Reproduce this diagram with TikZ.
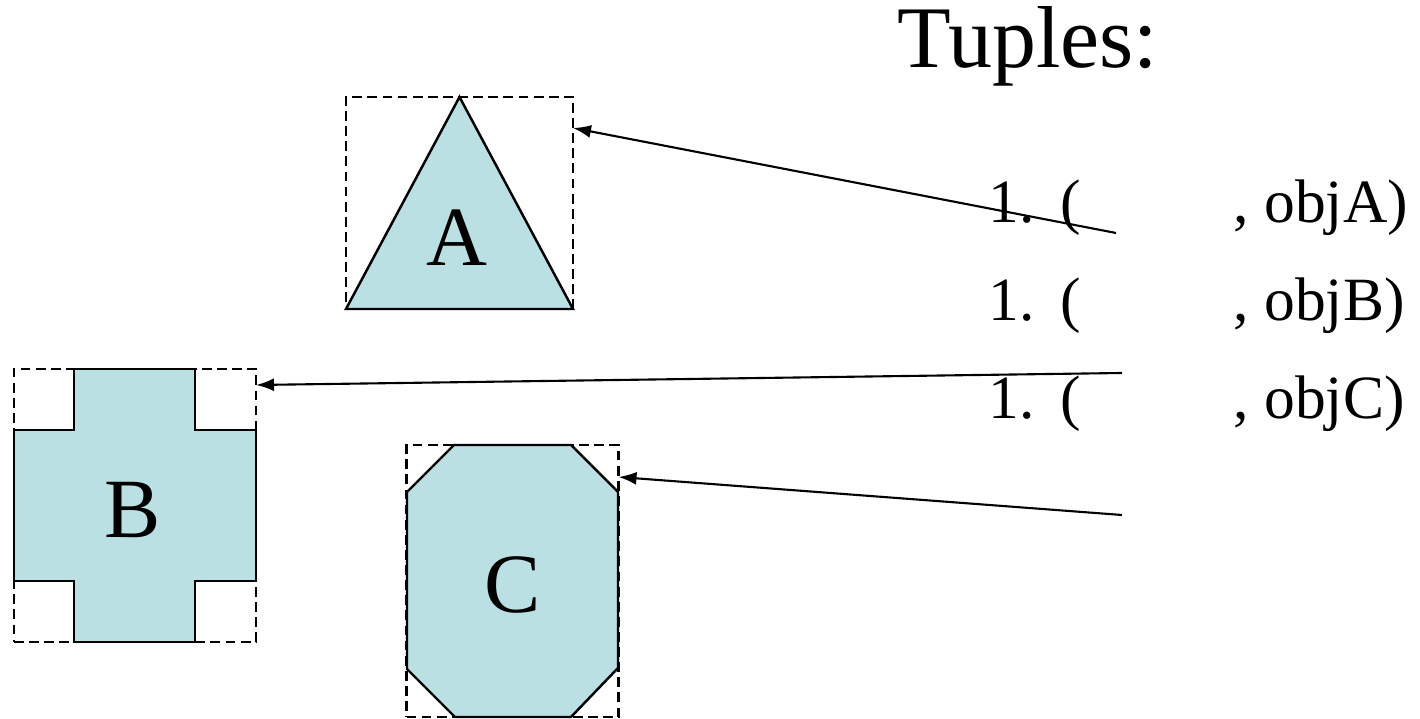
\documentclass[tikz,border=0pt]{standalone}
\usepackage{fontspec}
\setmainfont{Liberation Serif}
\usetikzlibrary{positioning, arrows.meta, calc}

\definecolor{shapefill}{RGB}{187,224,227}

\begin{document}
\begin{tikzpicture}[
  shp/.style={draw=black, line width=0.7pt, fill=shapefill, line join=miter},
  bbox/.style={draw=black, line width=0.7pt, dash pattern=on 2.8pt off 1.5pt,
    inner sep=0pt, outer sep=0pt},
  biglbl/.style={font=\fontsize{24}{28}\selectfont, inner sep=0pt},
  tup/.style={font=\fontsize{17.5}{21}\selectfont, anchor=base west, inner sep=0pt},
  ptr/.style={-{Latex[length=1.8mm, width=1.3mm]}, line width=0.6pt}
]
\useasboundingbox (0,0) rectangle (14.2,7.19);

% --- shape A: triangle ---
\draw[shp] (3.46,4.10) -- (4.595,6.22) -- (5.73,4.10) -- cycle;
\node[bbox, minimum width=2.27cm, minimum height=2.12cm] (boxA) at (4.595,5.16) {};
\node[biglbl] (labA) at (4.57,4.81) {A};

% --- shape B: cross ---
\draw[shp] (0.74,3.50) -- (1.95,3.50) -- (1.95,2.89) -- (2.56,2.89) -- (2.56,1.38)
  -- (1.95,1.38) -- (1.95,0.77) -- (0.74,0.77) -- (0.74,1.38) -- (0.14,1.38)
  -- (0.14,2.89) -- (0.74,2.89) -- cycle;
\node[bbox, minimum width=2.42cm, minimum height=2.73cm] (boxB) at (1.35,2.135) {};
\node[biglbl] (labB) at (1.33,2.09) {B};

% --- shape C: octagon ---
\draw[shp] (4.54,2.74) -- (5.71,2.74) -- (6.18,2.27) -- (6.18,0.51) -- (5.71,0.02)
  -- (4.55,0.02) -- (4.07,0.50) -- (4.07,2.27) -- cycle;
\node[bbox, minimum width=2.12cm, minimum height=2.72cm] (boxC) at (5.125,1.38) {};
\node[biglbl] (labC) at (5.13,1.34) {C};

% --- tuple list ---
\node[biglbl, anchor=base west, font=\fontsize{25}{29}\selectfont] (title) at (8.97,6.51) {Tuples:};
\node[tup] (numA) at (9.88,4.96) {1.\hspace{0.42em}(};
\node[tup] (numB) at (9.88,3.98) {1.\hspace{0.42em}(};
\node[tup] (numC) at (9.88,3.00) {1.\hspace{0.42em}(};
\node[tup] (objA) at (12.33,4.96) {, objA)};
\node[tup] (objB) at (12.33,3.98) {, objB)};
\node[tup] (objC) at (12.33,3.00) {, objC)};

% pointers back to the bounding boxes
\coordinate (srcA) at (11.16,4.86);
\coordinate (srcB) at (11.22,3.46);
\coordinate (srcC) at (11.22,2.04);
\draw[ptr] (srcA) -- ($(boxA.north east)+(0,-0.31)$);
\draw[ptr] (srcB) -- ($(boxB.north east)+(0,-0.16)$);
\draw[ptr] (srcC) -- ($(boxC.north east)+(0,-0.32)$);

\end{tikzpicture}
\end{document}
